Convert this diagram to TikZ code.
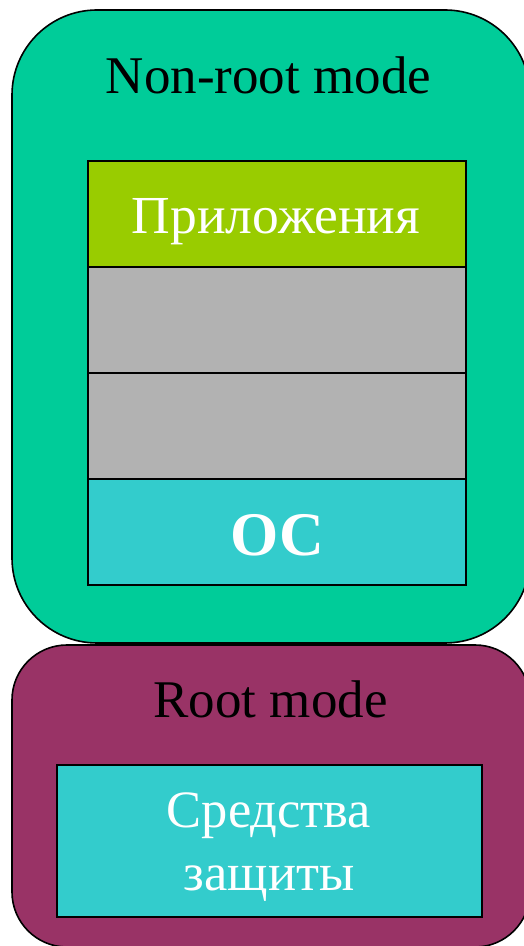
\documentclass[tikz,border=0pt]{standalone}
\usepackage{fontspec}
\setmainfont{Liberation Serif}
\definecolor{modegreen}{RGB}{0,204,153}
\definecolor{appgreen}{RGB}{153,204,0}
\definecolor{layergray}{RGB}{178,178,178}
\definecolor{oscyan}{RGB}{51,204,204}
\definecolor{rootpurple}{RGB}{153,51,102}
\begin{document}
\begin{tikzpicture}[x=1pt,y=1pt,
  modebox/.style={draw=black, line width=1.6pt, rectangle, inner sep=0pt, outer sep=0pt},
  layerbox/.style={draw=black, line width=1.6pt, rectangle, inner sep=0pt, outer sep=0pt,
    minimum width=378pt, minimum height=106pt},
  titletext/.style={text=black, font=\fontsize{53}{62}\selectfont, inner sep=0pt, anchor=base},
  whitetext/.style={text=white, font=\fontsize{53.5}{63}\selectfont, inner sep=0pt, anchor=base}]
\useasboundingbox (0,0) rectangle (524,946);
% modes
\node[modebox, fill=modegreen, rounded corners=85pt, minimum width=518pt, minimum height=633pt] (nonroot) at (271,619.5) {};
\node[modebox, fill=rootpurple, rounded corners=55pt, minimum width=518pt, minimum height=302pt] (root) at (271,150) {};
% layers
\node[layerbox, fill=appgreen] (apps) at (277,732) {};
\node[layerbox, fill=layergray] (gray1) at (277,626) {};
\node[layerbox, fill=layergray] (gray2) at (277,520) {};
\node[layerbox, fill=oscyan] (os) at (277,414) {};
\node[modebox, fill=oscyan, minimum width=425pt, minimum height=152pt] (prot) at (269.5,105) {};
% texts
\node[titletext] (nonroottitle) at (268.5,852) {Non-root mode};
\node[titletext] (roottitle) at (270.5,228) {Root mode};
\node[whitetext] (appstext) at (276,712) {Приложения};
\node[whitetext, font=\fontsize{62}{70}\selectfont\bfseries] (ostext) at (277,390) {ОС};
\node[text=white, font=\fontsize{52.5}{63}\selectfont, inner sep=0pt, align=center] (prottext) at (269,99) {Средства\\защиты};
\end{tikzpicture}
\end{document}
